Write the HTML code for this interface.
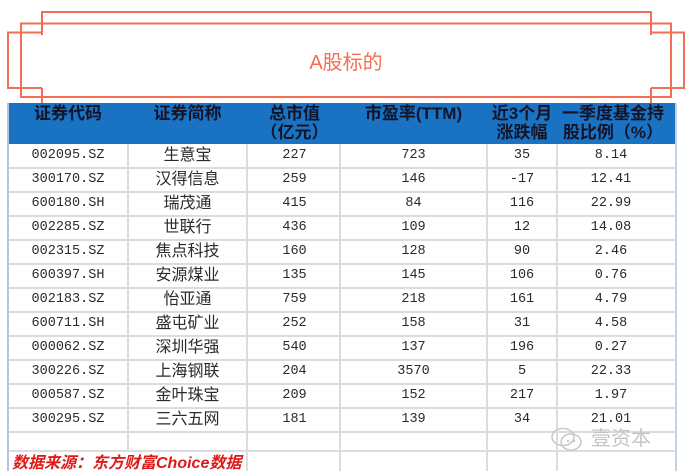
<!DOCTYPE html>
<html><head><meta charset="utf-8">
<style>
html,body{margin:0;padding:0;background:#fff;}
body{width:688px;height:476px;position:relative;overflow:hidden;font-family:"Liberation Sans","Noto Sans CJK SC",sans-serif;}
.abs{position:absolute;}
.hd{position:absolute;top:104px;height:40px;text-align:center;font-weight:700;font-size:17px;line-height:19px;color:#141428;font-family:"Liberation Sans","Noto Sans CJK SC",sans-serif;white-space:nowrap;}
.c{position:absolute;height:24px;line-height:24px;text-align:center;color:#2a2a2a;white-space:nowrap;}
.m{font-family:"Liberation Mono",monospace;font-size:13.5px;}
.n{font-family:"Liberation Sans","Noto Sans CJK SC",sans-serif;font-size:16px;}
.hl{position:absolute;height:2px;background:#dcdcdc;}
.vl{position:absolute;width:2px;background:#dcdcdc;}
</style></head><body>
<svg class="abs" style="left:0;top:0" width="688" height="120" viewBox="0 0 688 120">
<g stroke="#f26f55" stroke-width="2" fill="none">
<rect x="21" y="23.5" width="650" height="73.5"/>
<polyline points="42,35 42,12 651,12 651,35"/>
<polyline points="42,88 42,111 651,111 651,88"/>
<polyline points="42,32.5 8,32.5 8,88 42,88"/>
<polyline points="651,32.5 684,32.5 684,88 651,88"/>
</g>
<text x="346" y="69" text-anchor="middle" font-size="20" fill="#f26f55" font-family="Liberation Sans, Noto Sans CJK SC, sans-serif">A股标的</text>
</svg>

<!-- header -->
<div class="abs" style="left:8px;top:103px;width:668px;height:41px;background:#1a72c3;"></div>
<div class="hd" style="left:8px;width:120px;">证券代码</div>
<div class="hd" style="left:128px;width:119px;">证券简称</div>
<div class="hd" style="left:247px;width:95px;">总市值<br>（亿元）</div>
<div class="hd" style="left:340px;width:147px;">市盈率(TTM)</div>
<div class="hd" style="left:487px;width:70px;">近3个月<br>涨跌幅</div>
<div class="hd" style="left:557px;width:112px;">一季度基金持<br>股比例（%）</div>

<!-- grid -->
<div class="hl" style="left:8px;top:167px;width:668px"></div>
<div class="hl" style="left:8px;top:191px;width:668px"></div>
<div class="hl" style="left:8px;top:215px;width:668px"></div>
<div class="hl" style="left:8px;top:239px;width:668px"></div>
<div class="hl" style="left:8px;top:263px;width:668px"></div>
<div class="hl" style="left:8px;top:287px;width:668px"></div>
<div class="hl" style="left:8px;top:311px;width:668px"></div>
<div class="hl" style="left:8px;top:335px;width:668px"></div>
<div class="hl" style="left:8px;top:359px;width:668px"></div>
<div class="hl" style="left:8px;top:383px;width:668px"></div>
<div class="hl" style="left:8px;top:407px;width:668px"></div>
<div class="hl" style="left:8px;top:431px;width:668px"></div>
<div class="hl" style="left:8px;top:450px;width:668px"></div>
<div class="vl" style="left:127px;top:144px;height:307px"></div>
<div class="vl" style="left:246px;top:144px;height:327px"></div>
<div class="vl" style="left:339px;top:144px;height:327px"></div>
<div class="vl" style="left:486px;top:144px;height:327px"></div>
<div class="vl" style="left:556px;top:144px;height:327px"></div>
<div class="abs" style="left:7px;top:103px;width:2px;height:368px;background:#b4c6de"></div>
<div class="abs" style="left:675px;top:103px;width:2px;height:368px;background:#c4d2e4"></div>

<!-- rows -->
<div style="position:absolute;left:0;top:144px;">
<div class="c m" style="left:8px;width:120px;top:0">002095.SZ</div><div class="c n" style="left:128px;width:119px;top:0">生意宝</div><div class="c m" style="left:247px;width:95px;top:0">227</div><div class="c m" style="left:340px;width:147px;top:0">723</div><div class="c m" style="left:487px;width:70px;top:0">35</div><div class="c m" style="left:557px;width:108px;top:0">8.14</div>
<div class="c m" style="left:8px;width:120px;top:24px">300170.SZ</div><div class="c n" style="left:128px;width:119px;top:24px">汉得信息</div><div class="c m" style="left:247px;width:95px;top:24px">259</div><div class="c m" style="left:340px;width:147px;top:24px">146</div><div class="c m" style="left:487px;width:70px;top:24px">-17</div><div class="c m" style="left:557px;width:108px;top:24px">12.41</div>
<div class="c m" style="left:8px;width:120px;top:48px">600180.SH</div><div class="c n" style="left:128px;width:119px;top:48px">瑞茂通</div><div class="c m" style="left:247px;width:95px;top:48px">415</div><div class="c m" style="left:340px;width:147px;top:48px">84</div><div class="c m" style="left:487px;width:70px;top:48px">116</div><div class="c m" style="left:557px;width:108px;top:48px">22.99</div>
<div class="c m" style="left:8px;width:120px;top:72px">002285.SZ</div><div class="c n" style="left:128px;width:119px;top:72px">世联行</div><div class="c m" style="left:247px;width:95px;top:72px">436</div><div class="c m" style="left:340px;width:147px;top:72px">109</div><div class="c m" style="left:487px;width:70px;top:72px">12</div><div class="c m" style="left:557px;width:108px;top:72px">14.08</div>
<div class="c m" style="left:8px;width:120px;top:96px">002315.SZ</div><div class="c n" style="left:128px;width:119px;top:96px">焦点科技</div><div class="c m" style="left:247px;width:95px;top:96px">160</div><div class="c m" style="left:340px;width:147px;top:96px">128</div><div class="c m" style="left:487px;width:70px;top:96px">90</div><div class="c m" style="left:557px;width:108px;top:96px">2.46</div>
<div class="c m" style="left:8px;width:120px;top:120px">600397.SH</div><div class="c n" style="left:128px;width:119px;top:120px">安源煤业</div><div class="c m" style="left:247px;width:95px;top:120px">135</div><div class="c m" style="left:340px;width:147px;top:120px">145</div><div class="c m" style="left:487px;width:70px;top:120px">106</div><div class="c m" style="left:557px;width:108px;top:120px">0.76</div>
<div class="c m" style="left:8px;width:120px;top:144px">002183.SZ</div><div class="c n" style="left:128px;width:119px;top:144px">怡亚通</div><div class="c m" style="left:247px;width:95px;top:144px">759</div><div class="c m" style="left:340px;width:147px;top:144px">218</div><div class="c m" style="left:487px;width:70px;top:144px">161</div><div class="c m" style="left:557px;width:108px;top:144px">4.79</div>
<div class="c m" style="left:8px;width:120px;top:168px">600711.SH</div><div class="c n" style="left:128px;width:119px;top:168px">盛屯矿业</div><div class="c m" style="left:247px;width:95px;top:168px">252</div><div class="c m" style="left:340px;width:147px;top:168px">158</div><div class="c m" style="left:487px;width:70px;top:168px">31</div><div class="c m" style="left:557px;width:108px;top:168px">4.58</div>
<div class="c m" style="left:8px;width:120px;top:192px">000062.SZ</div><div class="c n" style="left:128px;width:119px;top:192px">深圳华强</div><div class="c m" style="left:247px;width:95px;top:192px">540</div><div class="c m" style="left:340px;width:147px;top:192px">137</div><div class="c m" style="left:487px;width:70px;top:192px">196</div><div class="c m" style="left:557px;width:108px;top:192px">0.27</div>
<div class="c m" style="left:8px;width:120px;top:216px">300226.SZ</div><div class="c n" style="left:128px;width:119px;top:216px">上海钢联</div><div class="c m" style="left:247px;width:95px;top:216px">204</div><div class="c m" style="left:340px;width:147px;top:216px">3570</div><div class="c m" style="left:487px;width:70px;top:216px">5</div><div class="c m" style="left:557px;width:108px;top:216px">22.33</div>
<div class="c m" style="left:8px;width:120px;top:240px">000587.SZ</div><div class="c n" style="left:128px;width:119px;top:240px">金叶珠宝</div><div class="c m" style="left:247px;width:95px;top:240px">209</div><div class="c m" style="left:340px;width:147px;top:240px">152</div><div class="c m" style="left:487px;width:70px;top:240px">217</div><div class="c m" style="left:557px;width:108px;top:240px">1.97</div>
<div class="c m" style="left:8px;width:120px;top:264px">300295.SZ</div><div class="c n" style="left:128px;width:119px;top:264px">三六五网</div><div class="c m" style="left:247px;width:95px;top:264px">181</div><div class="c m" style="left:340px;width:147px;top:264px">139</div><div class="c m" style="left:487px;width:70px;top:264px">34</div><div class="c m" style="left:557px;width:108px;top:264px">21.01</div>
</div>

<!-- watermark -->
<svg class="abs" style="left:550px;top:426px" width="36" height="28" viewBox="0 0 36 28">
<g fill="none" stroke="#c8c8c8" stroke-width="1.5">
<ellipse cx="13" cy="11" rx="11" ry="8.5"/>
<ellipse cx="21" cy="16" rx="10" ry="8"/>
</g>
<circle cx="18" cy="15" r="1.2" fill="#c8c8c8"/><circle cx="24" cy="15" r="1.2" fill="#c8c8c8"/>
</svg>
<div class="abs" style="left:591px;top:427px;font-size:20px;line-height:24px;color:#c4c4c4;font-family:'Liberation Sans','Noto Sans CJK SC',sans-serif;">壹资本</div>

<!-- source -->
<div class="abs" style="left:12px;top:452px;font-size:16px;line-height:24px;color:#e01818;font-weight:700;font-style:italic;white-space:nowrap;font-family:'Liberation Sans','Noto Sans CJK SC',sans-serif;">数据来源：东方财富Choice数据</div>
<div class="abs" style="left:0;top:471px;width:688px;height:5px;background:#fff"></div>
</body></html>
